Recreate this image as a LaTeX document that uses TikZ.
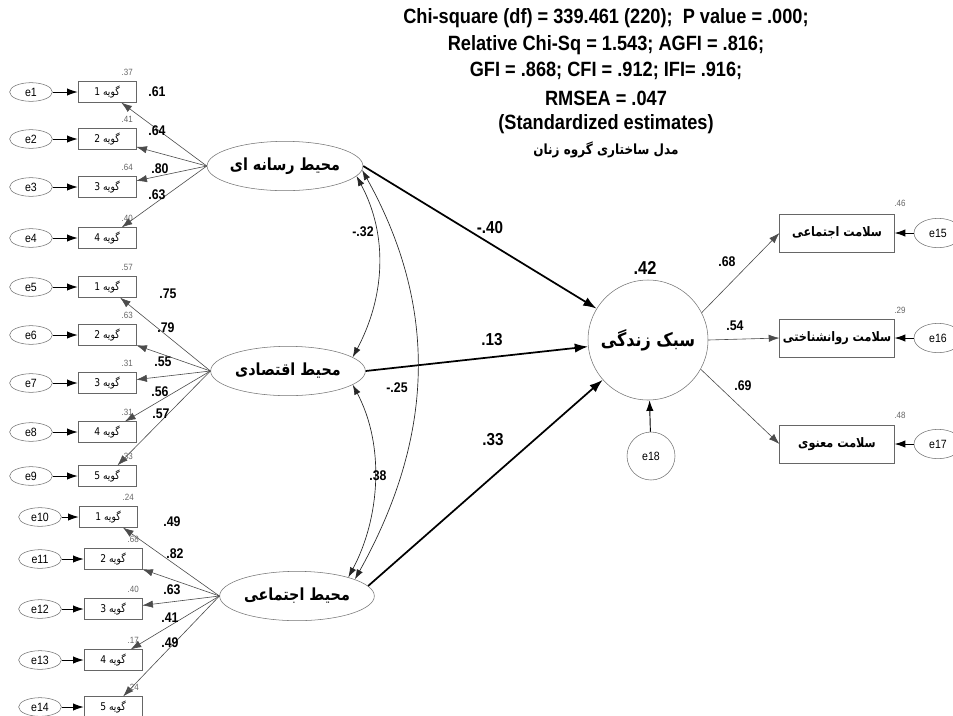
\documentclass[tikz,border=0pt]{standalone}
\usepackage{fontspec}
\setmainfont{Liberation Sans}[FakeStretch=0.88]
\newfontfamily\fa[Script=Arabic,FakeStretch=0.86]{DejaVu Sans}
\TeXXeTstate=1
\usetikzlibrary{arrows.meta,shapes.geometric,calc}
\begin{document}
\begin{tikzpicture}[x=0.75pt,y=-0.75pt,
  tipa/.style={-{Latex[length=8pt,width=5.5pt]}},
  ind/.style={tipa,draw=black!70,line width=0.45pt},
  errarr/.style={tipa,draw=black,line width=0.7pt},
  pathar/.style={-{Latex[length=10pt,width=7pt]},draw=black,line width=1.3pt},
  cov/.style={{Latex[length=7.5pt,width=5pt]}-{Latex[length=7.5pt,width=5pt]},draw=black!85,line width=0.5pt},
  errell/.style={ellipse,draw=black!55,minimum width=32pt,minimum height=14pt,inner sep=0pt,font=\fontsize{9}{10}\selectfont},
  item/.style={rectangle,draw=black!60,minimum width=43.5pt,minimum height=15.5pt,inner sep=0pt,font=\fa\fontsize{8}{9}\selectfont},
  latent/.style={ellipse,draw=black!55,minimum width=116pt,minimum height=37pt,inner sep=0pt,font=\fa\bfseries\fontsize{12.5}{13}\selectfont},
  obs/.style={rectangle,draw=black!60,minimum width=86pt,minimum height=28.5pt,inner sep=0pt,font=\fa\bfseries\fontsize{9.8}{10}\selectfont},
  lab/.style={font=\bfseries\fontsize{10.5}{11}\selectfont,inner sep=0pt},
  plab/.style={font=\bfseries\fontsize{13}{14}\selectfont,inner sep=0pt},
  clab/.style={font=\bfseries\fontsize{10.5}{11}\selectfont,inner sep=0pt},
  slab/.style={font=\fontsize{6.8}{7}\selectfont,text=black!60,inner sep=0pt},
  head/.style={font=\bfseries\fontsize{15.5}{16}\selectfont,inner sep=0pt}]
\useasboundingbox (0,0) rectangle (953,715);
\fill[white] (0,0) rectangle (953,715);

% header
\node[head] (h1) at (606,18) {Chi-square (df) = 339.461 (220);\ \ P value = .000;};
\node[head] (h2) at (606,45) {Relative Chi-Sq = 1.543; AGFI = .816;};
\node[head] (h3) at (606,71) {GFI = .868; CFI = .912; IFI= .916;};
\node[head] (h4) at (606,98) {RMSEA = .047};
\node[head] (h5) at (606,124) {(Standardized estimates)};
\node[font=\fa\bfseries\fontsize{10.5}{11}\selectfont,inner sep=0pt] (h6) at (606,150) {\beginR مدل ساختاری گروه زنان\endR};

% latent variables
\node[latent] (L1) at (285,166) {\beginR محیط رسانه ای\endR};
\node[latent] (L2) at (288,371) {\beginR محیط اقتصادی\endR};
\node[latent] (L3) at (297,596) {\beginR محیط اجتماعی\endR};

% group 1
\foreach \e/\n/\y/\s in {1/1/92/.37,2/2/139/.41,3/3/187/.64,4/4/238/.40}{
  \node[errell] (e\e) at (31,\y) {e\e};
  \node[item] (b\e) at (107,\y) {\beginR گویه \n\endR};
  \draw[errarr] (e\e) -- (b\e);
  \draw[ind] (L1.west) -- (b\e);
  \node[slab] (s\e) at ($(b\e.north east)+(-9,-9)$) {\s};
}
% group 2
\foreach \e/\n/\y/\s in {5/1/287/.57,6/2/335/.63,7/3/383/.31,8/4/432/.31,9/5/476/.33}{
  \node[errell] (e\e) at (31,\y) {e\e};
  \node[item] (b\e) at (107,\y) {\beginR گویه \n\endR};
  \draw[errarr] (e\e) -- (b\e);
  \draw[ind] (L2.west) -- (b\e);
  \node[slab] (s\e) at ($(b\e.north east)+(-9,-9)$) {\s};
}
% group 3
\foreach \e/\n/\x/\y/\s in {10/1/108/517/.24,11/2/113/559/.68,12/3/113/609/.40,13/4/113/660/.17,14/5/113/707/.24}{
  \node[errell] (e\e) at (40,\y) {e\e};
  \node[item] (b\e) at (\x,\y) {\beginR گویه \n\endR};
  \draw[errarr] (e\e) -- (b\e);
  \draw[ind] (L3.west) -- (b\e);
  \node[slab] (s\e) at ($(b\e.north east)+(-9,-9)$) {\s};
}

% loading labels
\foreach \t/\x/\y [count=\k] in {.61/157/92,.64/157/131,.80/160/169,.63/157/195,
  .75/168/294,.79/166/328,.55/163/362,.56/160/392,.57/161/414,
  .49/172/522,.82/175/554,.63/172/590,.41/170/618,.49/170/643}{
  \node[lab] (ll\k) at (\x,\y) {\t};
}

% central latent
\node[circle,draw=black!55,minimum size=90pt,inner sep=0pt,font=\fa\bfseries\fontsize{14}{15}\selectfont] (P) at (648,340) {\beginR سبک زندگی\endR};
\node[font=\bfseries\fontsize{14}{15}\selectfont,inner sep=0pt] (r2) at (645,268) {.42};
\node[circle,draw=black!55,minimum size=36pt,inner sep=0pt,font=\fontsize{9}{10}\selectfont] (e18) at (651,456) {e18};
\draw[errarr] (e18) -- (P);

% structural paths
\draw[pathar] (L1.east) -- (P);
\draw[pathar] (L2.east) -- (P);
\draw[pathar] (L3.8) -- (P);
\node[plab] (p1) at (490,228) {-.40};
\node[plab] (p2) at (492,340) {.13};
\node[plab] (p3) at (493,440) {.33};

% covariances
\draw[cov] (L1.-8) .. controls ($(L1.-8)+(32,60)$) and ($(L2.12)+(32,-60)$) .. (L2.12);
\draw[cov] (L1.-3) .. controls ($(L1.-3)+(78,140)$) and ($(L3.16)+(78,-140)$) .. (L3.16);
\draw[cov] (L2.-12) .. controls ($(L2.-12)+(32,60)$) and ($(L3.20)+(32,-60)$) .. (L3.20);
\node[clab] (c1) at (363,232) {-.32};
\node[clab] (c2) at (397,388) {-.25};
\node[clab] (c3) at (378,476) {.38};

% outcome indicators
\node[obs] (R1) at (837,233) {\beginR سلامت اجتماعی\endR};
\node[obs] (R2) at (837,338) {\beginR سلامت روانشناختی\endR};
\node[obs] (R3) at (837,444) {\beginR سلامت معنوی\endR};
\node[errell,minimum width=36pt,minimum height=22pt] (e15) at (938,233) {e15};
\node[errell,minimum width=36pt,minimum height=22pt] (e16) at (938,338) {e16};
\node[errell,minimum width=36pt,minimum height=22pt] (e17) at (938,444) {e17};
\draw[errarr] (e15) -- (R1);
\draw[errarr] (e16) -- (R2);
\draw[errarr] (e17) -- (R3);
\draw[ind] (P.27) -- (R1.west);
\draw[ind] (P.east) -- (R2.west);
\draw[ind] (P.-29) -- (R3.west);
\node[slab] (s15) at (900,203) {.46};
\node[slab] (s16) at (900,310) {.29};
\node[slab] (s17) at (900,415) {.48};
\node[lab] (o1) at (727,262) {.68};
\node[lab] (o2) at (735,326) {.54};
\node[lab] (o3) at (743,386) {.69};
\end{tikzpicture}
\end{document}
